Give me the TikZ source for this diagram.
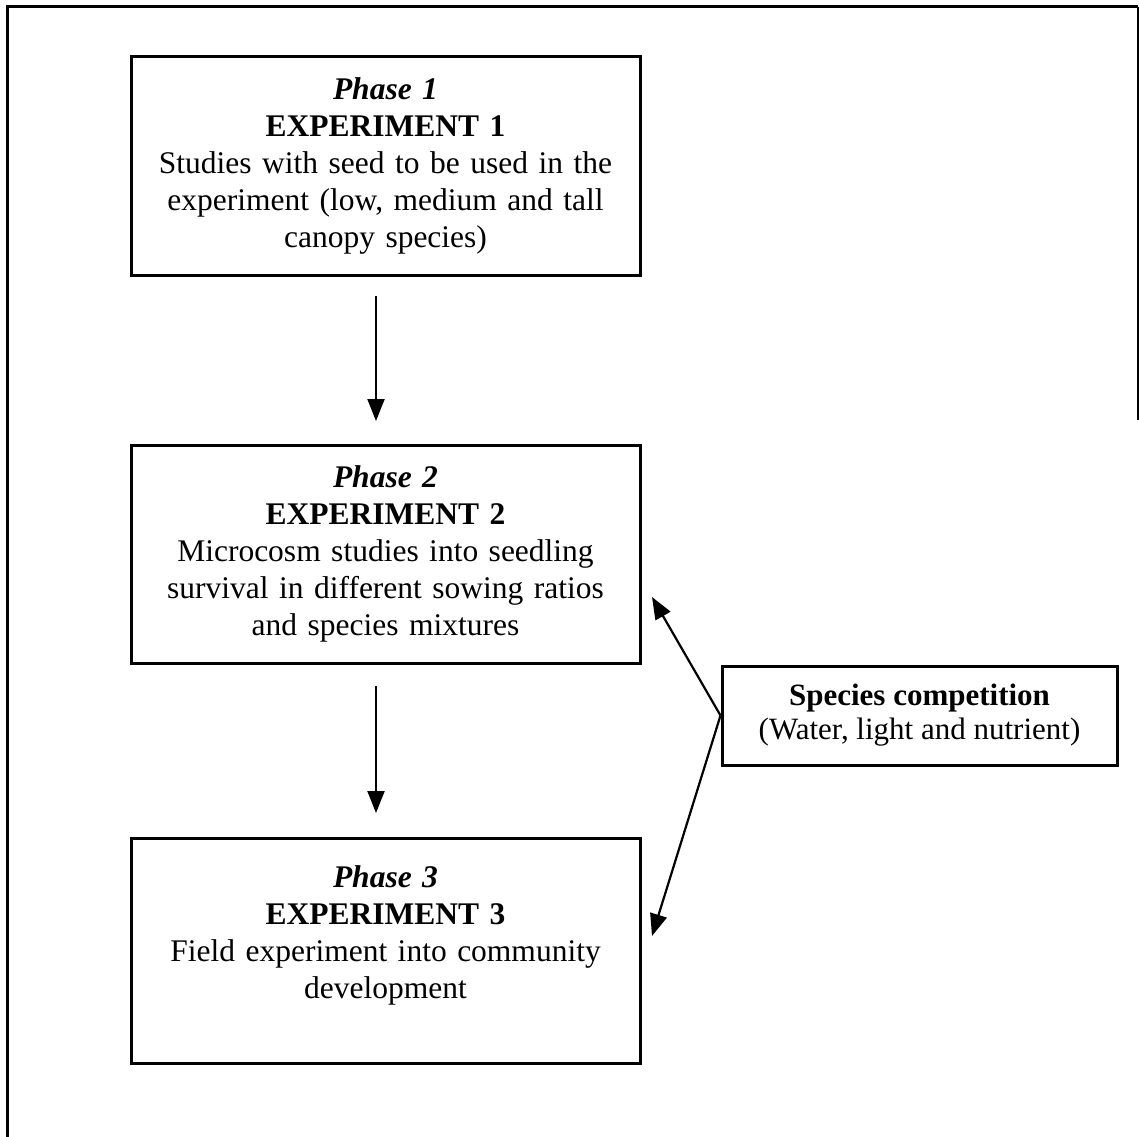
\documentclass[tikz,border=0pt]{standalone}
\usepackage{fontspec}
\setmainfont{Liberation Serif}
\usetikzlibrary{arrows.meta}
\begin{document}
\begin{tikzpicture}[x=1pt,y=-1pt,
  phasebox/.style={draw,line width=3pt,minimum width=509pt,text width=495pt,align=center,
    font=\fontsize{31.5}{37}\selectfont,inner sep=0pt},
  sidebox/.style={draw,line width=3pt,minimum width=395pt,minimum height=99pt,align=center,
    font=\fontsize{31}{34}\selectfont,inner sep=0pt},
  arr/.style={line width=2.2pt,-{Triangle[length=22pt,width=17pt]}}]
\useasboundingbox (0,0) rectangle (1140,1137);
% outer frame
\draw[line width=3pt] (7,1137) -- (7,7) -- (1138,7);
\draw[line width=2.5pt] (1138,7) -- (1138,420);
% boxes
\node[phasebox,minimum height=218pt] (p1) at (385.5,166)
  {\textit{\textbf{Phase 1}}\\\textbf{EXPERIMENT 1}\\Studies with seed to be used in the\\experiment (low, medium and tall\\canopy species)};
\node[phasebox,minimum height=218pt] (p2) at (385.5,554)
  {\textit{\textbf{Phase 2}}\\\textbf{EXPERIMENT 2}\\Microcosm studies into seedling\\survival in different sowing ratios\\and species mixtures};
\node[phasebox,minimum height=225pt] (p3) at (385.5,950.5)
  {\textit{\textbf{Phase 3}}\\\textbf{EXPERIMENT 3}\\Field experiment into community\\development\\\mbox{}};
\node[sidebox] (sc) at (919.5,715.5)
  {\textbf{Species competition}\\(Water, light and nutrient)};
% arrows
\coordinate (a1s) at (376,296);
\coordinate (a1e) at (376,421);
\coordinate (a2s) at (376,686);
\coordinate (a2e) at (376,813);
\draw[arr] (a1s) -- (a1e);
\draw[arr] (a2s) -- (a2e);
\coordinate (t2) at (652,597);
\coordinate (t3) at (652,936);
\draw[arr] (sc.west) -- (t2);
\draw[arr] (sc.west) -- (t3);
\end{tikzpicture}
\end{document}
